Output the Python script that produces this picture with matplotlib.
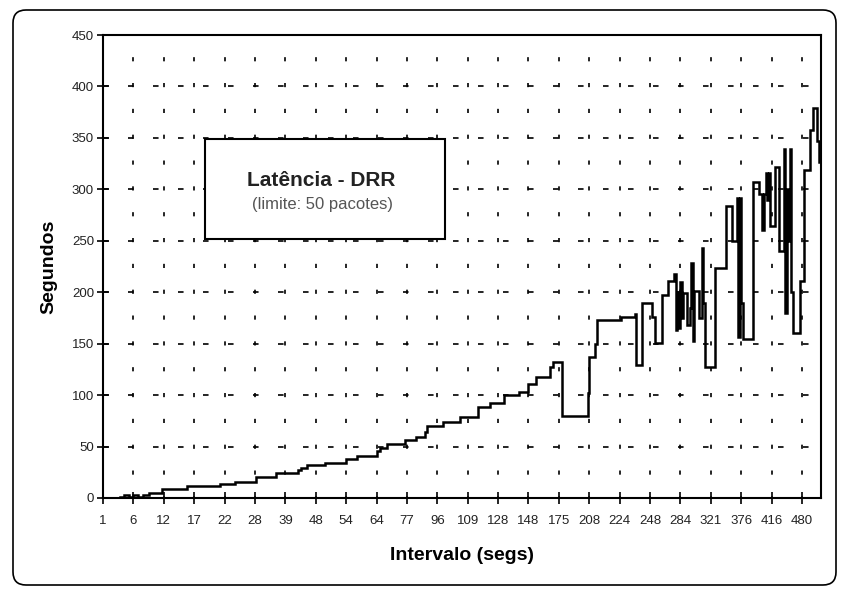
import numpy as np
import matplotlib
matplotlib.use('Agg')
import matplotlib.pyplot as plt
from matplotlib.patches import Rectangle, FancyBboxPatch

plt.rcParams['font.family'] = ['Liberation Sans', 'DejaVu Sans']

# ---- data ----
rotulos_x = ['1', '6', '12', '17', '22', '28', '39', '48', '54', '64', '77', '96',
             '109', '128', '148', '175', '208', '224', '248', '284', '321', '376',
             '416', '480']
amostras_por_rotulo = 20
amostra_inicial = 11
total_amostras = 472.5

latencia = [1, 3, 1, 3, 1, 3, 4.5, 8.5, 11.5, 13.5, 16, 20, 24, 27, 29.5, 32, 34,
            37.5, 41, 46, 48.5, 52.5, 56, 59.5, 64, 70, 74, 79, 88.5, 92.5, 100,
            103, 111, 118, 127, 132.5, 80, 102, 137, 150, 173, 176, 179, 129, 190,
            176, 151, 197, 211, 218, 163, 200, 165, 210, 175, 199, 168, 185, 228,
            153, 201, 175, 243, 190, 127, 224, 284, 250, 292, 156, 292, 190, 155,
            307, 295, 260, 295, 316, 290, 316, 264, 322, 240, 339, 180, 300, 250,
            339, 200, 160, 211, 319, 358, 379, 347, 327]
duracao = [3, 3, 3, 3, 3, 4, 9, 16, 22, 10, 14, 13, 14, 2, 4, 12, 14,
           7, 13, 2, 5, 12, 7, 6, 1, 11, 11, 12, 8, 9, 10,
           6, 5, 9, 2, 6, 17, 1, 4, 1, 16, 9, 1, 4, 6,
           2, 5, 4, 4, 1, 1, 1, 1, 1, 1, 2, 2, 1, 1,
           1, 3, 2, 1, 1, 7, 7, 4, 3, 1, 1, 1, 1, 7,
           4, 2, 1, 1, 1, 1, 1, 3, 3, 3, 1, 1, 1, 1,
           1, 1, 5, 2, 4, 2, 3, 1, 1]

yticks = [0, 50, 100, 150, 200, 250, 300, 350, 400, 450]

# ---- figure ----
W, H = 843, 592
fig = plt.figure(figsize=(W / 100, H / 100), dpi=100)

# outer rounded border
border = FancyBboxPatch((0.13, 0.07), 8.23, 5.75,
                        boxstyle='round,pad=0,rounding_size=0.13',
                        transform=fig.dpi_scale_trans, facecolor='white',
                        edgecolor='black', linewidth=1.2, zorder=0)
fig.add_artist(border)

ax = fig.add_axes([103 / W, (H - 498) / H, 718 / W, 463 / H])
ax.set_facecolor('none')

x_edges = amostra_inicial + np.concatenate([[0], np.cumsum(duracao)])
y_vals = list(latencia) + [latencia[-1]]
ax.step(x_edges, y_vals, where='post', color='black', linewidth=1.8, zorder=3,
        solid_joinstyle='miter')

ax.set_xlim(0, total_amostras)
ax.set_ylim(0, 450)
ax.set_xticks(np.arange(len(rotulos_x)) * amostras_por_rotulo)
ax.set_xticklabels(rotulos_x)
ax.set_yticks(yticks)

# grid lines (dotted style)
for xv in np.arange(len(rotulos_x)) * amostras_por_rotulo:
    if xv == 0:
        continue
    ax.axvline(xv, color='black', linewidth=1.2,
               linestyle=(1.5, (3.0 / 1.2, 15.6 / 1.2)), zorder=1)
for yv in yticks[1:-1]:
    ax.axhline(yv, color='black', linewidth=1.2,
               linestyle=(0, (4.0 / 1.2, 14.0 / 1.2)), zorder=1)

for s in ax.spines.values():
    s.set_linewidth(1.5)

ax.tick_params(axis='both', direction='inout', length=9, width=1.2,
               labelsize=9.5, labelcolor='#222222')
ax.tick_params(axis='x', pad=8)
ax.tick_params(axis='y', pad=2)

ax.set_xlabel('Intervalo (segs)', fontsize=14, fontweight='bold', labelpad=14)
ax.set_ylabel('Segundos', fontsize=14, fontweight='bold', labelpad=10)

# title box
box = Rectangle((205 / W, (H - 239) / H), 240 / W, 100 / H,
                transform=fig.transFigure, facecolor='white',
                edgecolor='black', linewidth=1.5, zorder=5)
fig.add_artist(box)
fig.text(321 / W, (H - 180) / H, 'Latência - DRR', ha='center', va='center',
         fontsize=15, fontweight='bold', color='#222222', zorder=6)
fig.text(322 / W, (H - 205) / H, '(limite: 50 pacotes)', ha='center',
         va='center', fontsize=12, color='#555555', zorder=6)

fig.savefig('out.png', dpi=100)
